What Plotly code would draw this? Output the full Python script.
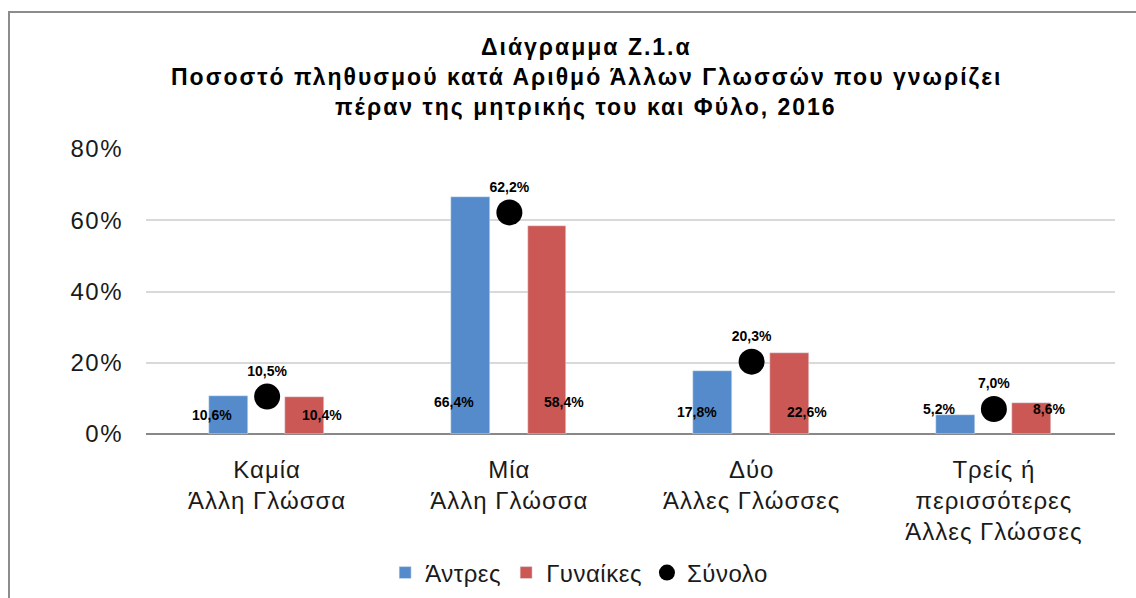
import plotly.graph_objects as go

categories = ["Καμία<br>Άλλη Γλώσσα", "Μία<br>Άλλη Γλώσσα", "Δύο<br>Άλλες Γλώσσες",
              "Τρείς ή<br>περισσότερες<br>Άλλες Γλώσσες"]
men = [10.6, 66.4, 17.8, 5.2]
women = [10.4, 58.4, 22.6, 8.6]
total = [10.5, 62.2, 20.3, 7.0]
series_names = ["Άντρες", "Γυναίκες", "Σύνολο"]
y_ticks = [0, 20, 40, 60, 80]
y_ticklabels = ["0%", "20%", "40%", "60%", "80%"]
title_lines = ["Διάγραμμα Ζ.1.α",
               "Ποσοστό πληθυσμού κατά Αριθμό Άλλων Γλωσσών που γνωρίζει",
               "πέραν της μητρικής του και Φύλο, 2016"]

# styling: heights of bar value labels (axis units) and title line centres (px from top)
label_y = [5.3, 9.0, 6.2, 7.0]
title_line_px = [47, 77, 107]


def fmt(v):
    return f"{v:.1f}".replace(".", ",") + "%"


def spaced(t, px):
    return f'<span style="letter-spacing:{px}px">{t}</span>'


BLUE = "#558BCB"
RED = "#CC5855"
FONT = "Liberation Sans, Arial, sans-serif"
PLOT_L, PLOT_T, PLOT_W, PLOT_H = 146, 149, 969, 285

x_idx = list(range(len(categories)))

fig = go.Figure()
fig.add_trace(go.Bar(x=x_idx, y=men, name=spaced(series_names[0], 0.5), marker_color=BLUE,
                     width=0.16, offset=-0.24, hoverinfo="skip"))
fig.add_trace(go.Bar(x=x_idx, y=women, name=spaced(series_names[1], 0.5), marker_color=RED,
                     width=0.16, offset=0.075, hoverinfo="skip"))
fig.add_trace(go.Scatter(x=x_idx, y=total, name=spaced(series_names[2], 0.5), mode="markers+text",
                         marker=dict(color="black", size=26),
                         text=[fmt(v) for v in total], textposition="top center",
                         textfont=dict(family=FONT, size=14, color="black", weight="bold"),
                         cliponaxis=False, hoverinfo="skip"))

for i in x_idx:
    fig.add_annotation(x=i, y=label_y[i], text=fmt(men[i]), showarrow=False,
                       xshift=-55, font=dict(family=FONT, size=14, color="black", weight="bold"))
    fig.add_annotation(x=i, y=label_y[i], text=fmt(women[i]), showarrow=False,
                       xshift=55, font=dict(family=FONT, size=14, color="black", weight="bold"))

for line, ypx in zip(title_lines, title_line_px):
    fig.add_annotation(xref="paper", yref="paper", x=(586 - PLOT_L) / PLOT_W,
                       y=(PLOT_T + PLOT_H - ypx) / PLOT_H,
                       xanchor="center", yanchor="middle", showarrow=False,
                       text="<b>" + spaced(line, 2) + "</b>",
                       font=dict(family=FONT, size=23, color="black"))

fig.update_layout(
    width=1136, height=598,
    margin=dict(l=PLOT_L, r=1136 - PLOT_L - PLOT_W, t=PLOT_T, b=598 - PLOT_T - PLOT_H,
                autoexpand=False),
    paper_bgcolor="white", plot_bgcolor="white",
    font=dict(family=FONT, color="#1a1a1a"),
    showlegend=True,
    legend=dict(orientation="h", x=0.447, xanchor="center", xref="paper",
                y=1 - 573 / 598, yanchor="middle", yref="container",
                font=dict(family=FONT, size=24, color="#1a1a1a"), itemwidth=30,
                traceorder="normal"),
    bargap=0, barmode="overlay",
)
fig.update_xaxes(tickmode="array", tickvals=x_idx, ticktext=[spaced(c, 1) for c in categories],
                 range=[-0.5, 3.5], showgrid=False, showline=False, zeroline=False,
                 automargin=False, ticklabelstandoff=19,
                 tickfont=dict(family=FONT, size=24, color="#1a1a1a"), ticks="")
fig.update_yaxes(range=[0, 80], tickmode="array", tickvals=y_ticks,
                 ticktext=[spaced(t, 1.5) for t in y_ticklabels],
                 showgrid=True, gridcolor="#D9D9D9", gridwidth=1.5,
                 zeroline=True, zerolinecolor="#888888", zerolinewidth=2,
                 showline=False, ticklabelstandoff=22, automargin=False,
                 tickfont=dict(family=FONT, size=24, color="#1a1a1a"))

# outer chart border
fig.add_shape(type="rect", xref="paper", yref="paper",
              x0=(9 - PLOT_L) / PLOT_W, x1=(1150 - PLOT_L) / PLOT_W,
              y0=(PLOT_T + PLOT_H - 610) / PLOT_H, y1=(PLOT_T + PLOT_H - 12) / PLOT_H,
              line=dict(color="#8C8C8C", width=2), fillcolor="rgba(0,0,0,0)", layer="below")

fig.write_html("out.html", config={"displayModeBar": False},
               post_script="document.body.style.margin='0';")
